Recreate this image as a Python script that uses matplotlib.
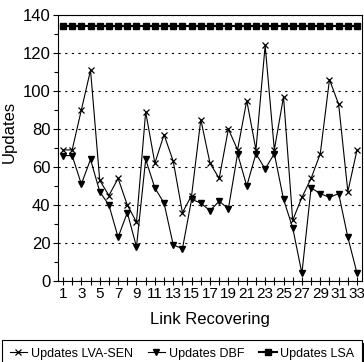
import matplotlib
matplotlib.use("Agg")
import matplotlib.pyplot as plt
import numpy as np

plt.rcParams['font.family'] = ['Liberation Sans', 'DejaVu Sans']

# data
links = list(range(1, 34))
lva_sen = [69, 69, 90, 111, 53, 45, 54, 40, 31, 89, 62, 77, 63, 36, 45, 85, 62,
           54, 80, 69, 95, 69, 124, 69, 97, 32, 44, 54, 67, 106, 93, 47, 69]
dbf = [66, 66, 51, 64, 47, 40, 23, 36, 18, 64, 49, 41, 19, 17, 43, 41, 37,
       42, 38, 67, 50, 67, 59, 67, 43, 28, 4, 49, 46, 44, 46, 23, 4]
lsa = [134] * 33

fig = plt.figure(figsize=(3.64, 3.62), dpi=100)
ax = fig.add_axes([58 / 364, 1 - 281 / 362, 304 / 364, 266 / 362])

ax.plot(links, lva_sen, color='black', lw=0.8, marker='x', ms=4.5, mew=0.9,
        label='Updates LVA-SEN')
ax.plot(links, dbf, color='black', lw=0.8, marker='v', ms=4.5,
        label='Updates DBF')
ax.plot(links, lsa, color='black', lw=1.5, marker='s', ms=4,
        label='Updates LSA')

ax.set_xlim(0.46, 33.54)
ax.set_ylim(0, 140)
ax.set_yticks(np.arange(0, 141, 20))
ax.set_yticks(np.arange(10, 140, 20), minor=True)
ax.set_xticks(links)
ax.set_xticklabels([str(i) if i % 2 == 1 else '' for i in links])

ax.tick_params(axis='y', which='major', direction='out', length=3.5,
               width=0.8, labelsize=12, pad=2)
ax.tick_params(axis='y', which='minor', direction='out', length=3, width=0.8)
ax.tick_params(axis='x', which='major', direction='inout', length=6,
               width=0.8, labelsize=11, pad=1.5)

ax.grid(axis='y', which='major', color='black', linestyle=(0, (2, 4)),
        linewidth=0.8)

for s in ax.spines.values():
    s.set_linewidth(0.8)

ax.set_xlabel('Link Recovering', fontsize=12, labelpad=8)
ax.set_ylabel('Updates', fontsize=12)
ax.yaxis.set_label_coords(-0.135, 0.56)

leg = fig.legend(loc='upper left', bbox_to_anchor=(2 / 364, 22 / 362, 360 / 364, 0),
                 ncol=3, mode='expand', fontsize=9, frameon=True,
                 fancybox=False, edgecolor='black', handlelength=1.4,
                 handletextpad=0.3, borderaxespad=0, borderpad=0.6,
                 shadow={'color': 'black', 'alpha': 1})
leg.get_frame().set_linewidth(0.8)

fig.savefig('out.png', dpi=100)
